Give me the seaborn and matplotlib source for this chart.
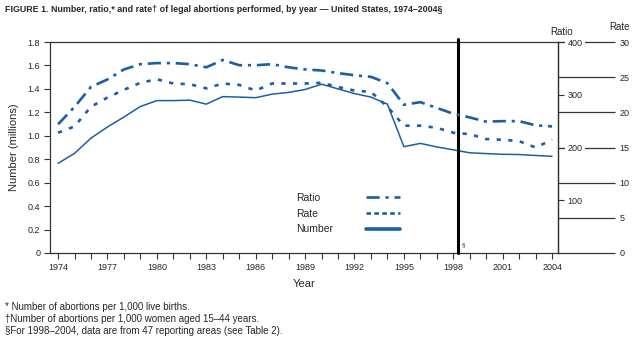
import matplotlib
matplotlib.use("Agg")
import matplotlib.pyplot as plt
from matplotlib.lines import Line2D
from matplotlib import font_manager
import seaborn as sns
import pandas as pd
import numpy as np

years = list(range(1974, 2005))
number_millions = [0.765, 0.85, 0.98, 1.075, 1.16, 1.25, 1.30, 1.30, 1.304, 1.27, 1.334, 1.33, 1.325,
                   1.355, 1.37, 1.395, 1.44, 1.40, 1.36, 1.33, 1.27, 0.907, 0.935, 0.905, 0.88,
                   0.855, 0.848, 0.842, 0.84, 0.832, 0.825]
ratio = [244, 277, 315, 329, 348, 358, 360, 360, 358, 352, 366, 356, 356, 358, 352, 348, 346,
         341, 337, 334, 322, 281, 286, 275, 264, 257, 249, 250, 250, 242, 240]
rate = [17.1, 18.0, 20.8, 22.1, 23.2, 24.2, 24.7, 24.1, 24.0, 23.4, 24.1, 23.9, 23.1, 24.1, 24.1,
        24.1, 24.2, 23.6, 23.1, 22.9, 20.8, 18.1, 18.1, 17.8, 17.1, 16.9, 16.2, 16.1, 15.9, 15.0, 16.1]
xtick_years = list(range(1974, 2005, 3))
series_labels = ["Ratio", "Rate", "Number"]
break_year = 1998.3

df = pd.DataFrame({"Year": years, "Number": number_millions, "Ratio": ratio, "Rate": rate})

sns.set_theme(style="white")
plt.rcParams['font.family'] = ['Liberation Sans', 'DejaVu Sans']
BLUE = "#1b5ea8"

try:
    font_manager.findfont(font_manager.FontProperties(family="Liberation Sans Narrow"),
                          fallback_to_default=False)
    has_narrow = True
except Exception:
    has_narrow = False
narrow = ['Liberation Sans Narrow', 'Liberation Sans', 'DejaVu Sans'] if has_narrow else ['Liberation Sans', 'DejaVu Sans']
title_size = 8 if has_narrow else 6.4
foot_size = 7.2 if has_narrow else 7.0

fig = plt.figure(figsize=(6.4, 3.38), dpi=100)
ax = fig.add_axes([50/640, 1 - 253/338, 508/640, 211/338])
ax_rate = ax.twinx()
ax_ratio = ax.twinx()

RATIO_DASH = (5, 2.2, 1.2, 2.2)
RATE_DASH = (1.6, 2.8)

sns.lineplot(data=df, x="Year", y="Number", ax=ax, color=BLUE, linewidth=1.1)
sns.lineplot(data=df, x="Year", y="Ratio", ax=ax_ratio, color=BLUE, linewidth=1.9)
ax_ratio.lines[0].set_dashes(RATIO_DASH)
sns.lineplot(data=df, x="Year", y="Rate", ax=ax_rate, color=BLUE, linewidth=1.9)
ax_rate.lines[0].set_dashes(RATE_DASH)

ax.set_xlim(1973.51, 2004.36)
ax.set_ylim(0, 1.8)
ax_ratio.set_ylim(0, 400)
ax_rate.set_ylim(0, 30)

ax.set_yticks(np.arange(0, 1.81, 0.2))
ax.set_yticklabels(["0"] + [f"{v:.1f}" for v in np.arange(0.2, 1.81, 0.2)])
ax.set_xticks(xtick_years)
ax.set_xticks(years, minor=True)
ax.tick_params(axis="x", which="both", direction="out", length=4, width=0.8, color="#333333",
               labelsize=6.5, pad=3, bottom=True)
ax.tick_params(axis="y", direction="out", length=4, width=0.8, color="#333333",
               labelsize=6.5, pad=3, left=True)
ax.set_xlabel("Year", fontsize=8, labelpad=5)
ax.set_ylabel("Number (millions)", fontsize=8, labelpad=6)
for s in ["left", "bottom", "top", "right"]:
    ax.spines[s].set_color("#333333")
    ax.spines[s].set_linewidth(0.9)

# ratio axis
ax_ratio.set_yticks([100, 200, 300, 400])
ax_ratio.tick_params(axis="y", direction="out", length=4, width=0.8, color="#333333",
                     labelsize=6.5, pad=3, right=True)
for lab in ax_ratio.get_yticklabels():
    lab.set_bbox(dict(facecolor="white", edgecolor="none", pad=1.6))
ax_ratio.set_ylabel("")
for s in ["left", "bottom", "top"]:
    ax_ratio.spines[s].set_visible(False)
ax_ratio.spines["right"].set_color("#333333")
ax_ratio.spines["right"].set_linewidth(0.9)

# rate axis: long inward ticks, spine hidden
ax_rate.spines["right"].set_position(("axes", (615 - 50) / 508))
for s in ["left", "bottom", "top", "right"]:
    ax_rate.spines[s].set_visible(False)
ax_rate.set_yticks([0, 5, 10, 15, 20, 25, 30])
ax_rate.tick_params(axis="y", direction="in", length=57 * 0.72, width=0.9, color="#333333",
                    labelsize=6.5, pad=3, right=True)
ax_rate.set_ylabel("")

fig.text(562/640, 1 - 32/338, "Ratio", fontsize=7, ha="center", va="center")
fig.text(619/640, 1 - 27/338, "Rate", fontsize=7, ha="center", va="center")

# break line
ax.axvline(break_year, ymin=0, ymax=1.012, color="black", linewidth=2.2, clip_on=False, zorder=5)
ax.text(break_year + 0.2, 0.07, "§", fontsize=4.5, ha="left", va="center")

# legend: labels (left aligned) and keys (right) as two aligned legends
handles = [Line2D([], [], color=BLUE, lw=1.9, dashes=RATIO_DASH),
           Line2D([], [], color=BLUE, lw=1.9, dashes=(1.7, 1.3)),
           Line2D([], [], color=BLUE, lw=2.6)]
blank = [Line2D([], [], color="none") for _ in series_labels]
common = dict(loc="upper left", frameon=False, fontsize=7.5, labelspacing=0.55, borderaxespad=0,
              borderpad=0)
anchor_y = (253 - 193) / 211
leg1 = ax_ratio.legend(blank, series_labels, bbox_to_anchor=((296 - 50) / 508, anchor_y),
                       handlelength=0, handletextpad=0, **common)
ax_ratio.add_artist(leg1)
leg2 = ax_ratio.legend(handles, [""] * 3, bbox_to_anchor=((366 - 50) / 508, anchor_y),
                       handlelength=3.3, handletextpad=0, **common)

fig.text(5/640, 1 - 10/338, "FIGURE 1. Number, ratio,* and rate† of legal abortions performed, by year — United States, 1974–2004§",
         fontsize=title_size, fontweight="bold", family=narrow, ha="left", va="center")
fig.text(5/640, 1 - 307/338, "* Number of abortions per 1,000 live births.", fontsize=foot_size,
         family=narrow, ha="left", va="center")
fig.text(5/640, 1 - 319/338, "†Number of abortions per 1,000 women aged 15–44 years.", fontsize=foot_size,
         family=narrow, ha="left", va="center")
fig.text(5/640, 1 - 331/338, "§For 1998–2004, data are from 47 reporting areas (see Table 2).", fontsize=foot_size,
         family=narrow, ha="left", va="center")

fig.savefig("out.png", dpi=100)
